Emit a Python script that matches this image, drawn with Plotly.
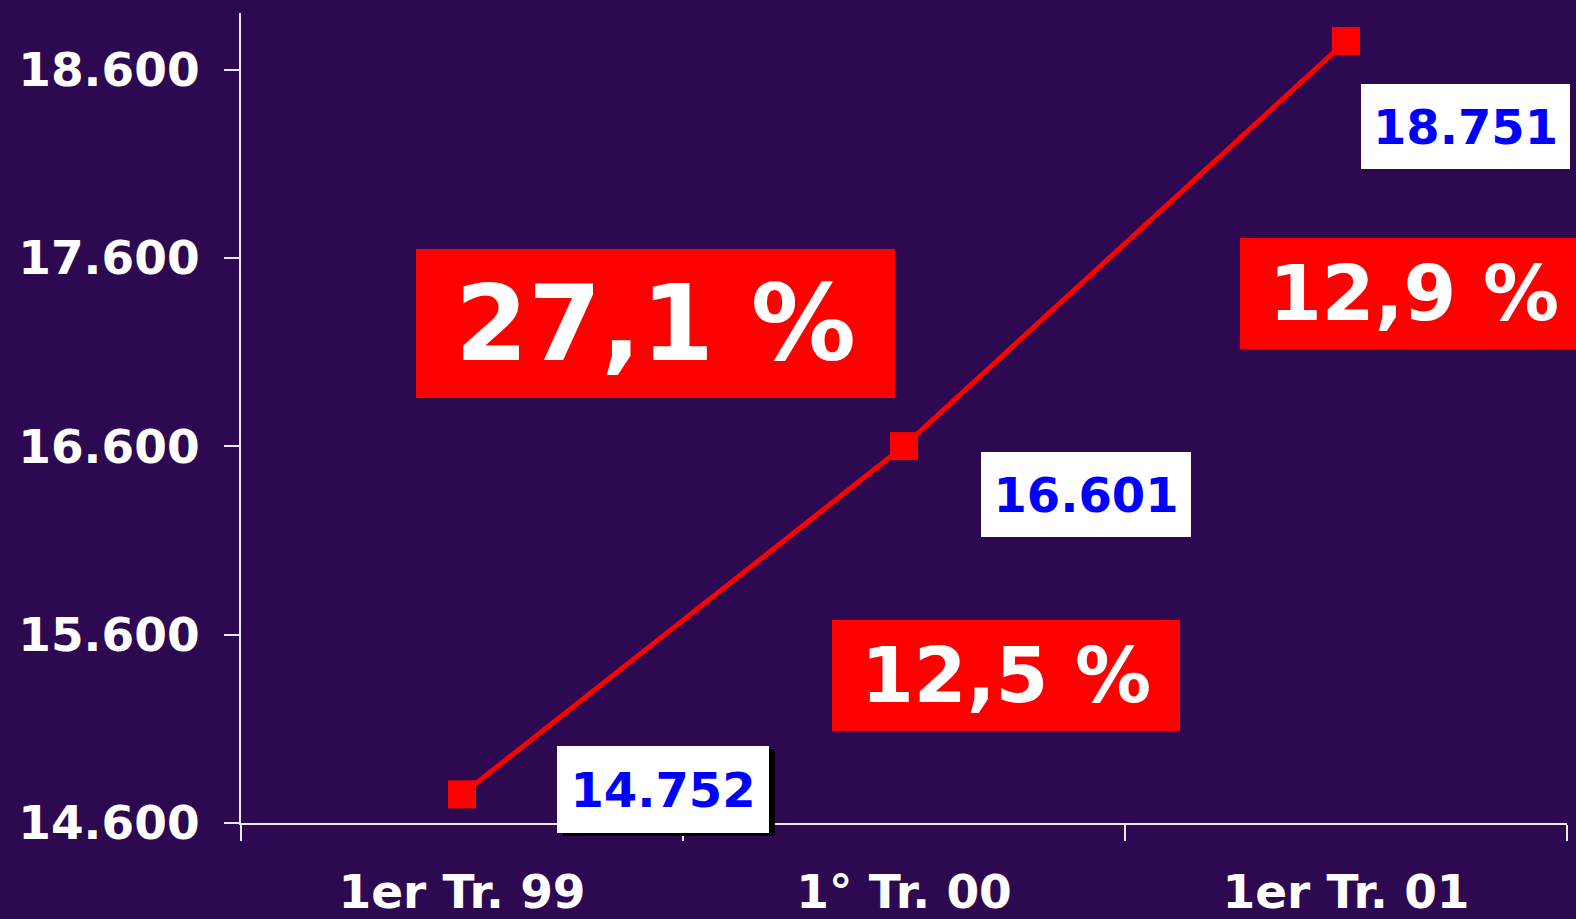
import plotly.graph_objects as go

# ---- data ----
categories = ["1er Tr. 99", "1° Tr. 00", "1er Tr. 01"]
values = [14752, 16601, 18751]
value_labels = ["14.752", "16.601", "18.751"]
y_tickvals = [14600, 15600, 16600, 17600, 18600]
y_ticktext = ["14.600", "15.600", "16.600", "17.600", "18.600"]
growth_labels = ["27,1 %", "12,5 %", "12,9 %"]

BG = "#2C0950"
FONT = "DejaVu Sans"

fig = go.Figure()
fig.add_trace(go.Scatter(
    x=categories, y=values, mode="lines+markers",
    line=dict(color="#FF0000", width=5),
    marker=dict(symbol="square", size=28, color="#FF0000"),
    hoverinfo="skip", showlegend=False,
))

annotations = []
# value label boxes: (xshift, yshift, width, height)
label_geo = [(201, 5, 212, 87), (182, -48, 210, 85), (119, -85, 209, 85)]
# shadow behind the first value label
sx, sy, sw, sh = label_geo[0]
annotations.append(dict(
    x=categories[0], y=values[0], xref="x", yref="y", text=" ",
    showarrow=False, xshift=sx + 6, yshift=sy - 3, width=sw, height=sh,
    bgcolor="#000000", borderpad=0, borderwidth=0,
    xanchor="center", yanchor="middle",
))
for cat, val, lab, (xs, ys, w, h) in zip(categories, values, value_labels, label_geo):
    annotations.append(dict(
        x=cat, y=val, xref="x", yref="y", text=lab, showarrow=False,
        xshift=xs, yshift=ys, width=w, height=h, bgcolor="#FFFFFF",
        borderpad=0, borderwidth=0, align="center", valign="middle",
        xanchor="center", yanchor="middle",
        font=dict(family=FONT, size=48, color="#0000FF", weight="bold"),
    ))

# growth boxes: (x paper, y paper, width, height, font size)
growth_geo = [(0.3126, 0.6168, 479, 149, 105),
              (0.5769, 0.1823, 348, 111, 76),
              (0.8846, 0.6531, 348, 111, 76)]
for lab, (xp, yp, w, h, fs) in zip(growth_labels, growth_geo):
    annotations.append(dict(
        x=xp, y=yp, xref="paper", yref="paper", text=lab, showarrow=False,
        width=w, height=h, bgcolor="#FF0000", borderpad=0, borderwidth=0,
        align="center", valign="middle", xanchor="center", yanchor="middle",
        font=dict(family=FONT, size=fs, color="#FFFFFF", weight="bold"),
    ))

fig.update_layout(
    width=1576, height=919,
    margin=dict(l=241, r=9, t=13, b=96),
    paper_bgcolor=BG, plot_bgcolor=BG,
    showlegend=False,
    annotations=annotations,
    xaxis=dict(
        type="category", range=[-0.5, 2.5], automargin=False,
        showgrid=False, zeroline=False,
        showline=True, linecolor="#EDE8F2", linewidth=2,
        ticks="outside", tickson="boundaries", ticklen=16, tickwidth=2,
        tickcolor="#EDE8F2",
        tickfont=dict(family=FONT, size=47, color="#FFFFFF", weight="bold"),
        ticklabelstandoff=27,
    ),
    yaxis=dict(
        range=[14600, 18900], tickvals=y_tickvals, ticktext=y_ticktext,
        automargin=False,
        showgrid=False, zeroline=False,
        showline=True, linecolor="#EDE8F2", linewidth=2,
        ticks="outside", ticklen=15, tickwidth=2, tickcolor="#EDE8F2",
        tickfont=dict(family=FONT, size=47, color="#FFFFFF", weight="bold"),
        ticklabelstandoff=15,
    ),
)

fig.write_html(
    "out.html",
    config={"displayModeBar": False},
    post_script="document.body.style.margin='0';document.body.style.overflow='hidden';",
)
